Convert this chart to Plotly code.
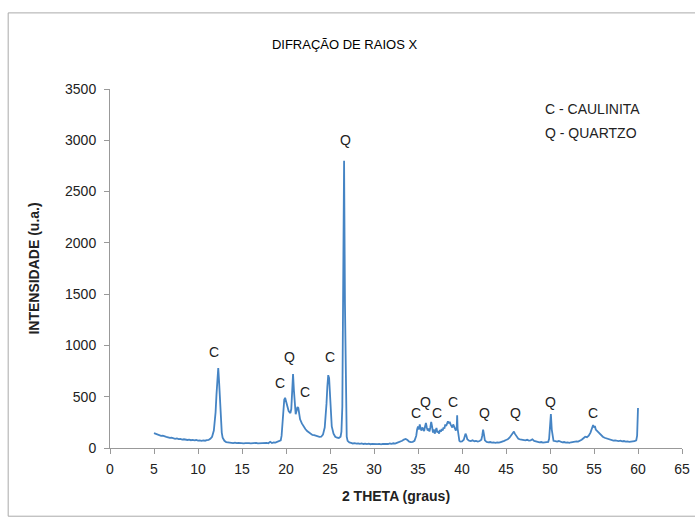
import plotly.graph_objects as go

two_theta = [
    5.0, 5.2, 5.4, 5.6, 5.8, 6.0, 6.2, 6.4, 6.6, 6.8, 7.0, 7.2, 7.4, 7.6, 7.8, 8.0, 8.2, 8.4, 8.6, 8.8,
    9.0, 9.2, 9.4, 9.6, 9.8, 10.0, 10.2, 10.4, 10.6, 10.8, 11.0, 11.2, 11.4,
    11.6, 11.8, 11.9, 12.0, 12.1, 12.2, 12.3, 12.4, 12.5, 12.6, 12.7, 12.8, 13.0, 13.2,
    13.4, 13.6, 13.8, 14.0, 14.2, 14.4, 14.6, 14.8, 15.0, 15.2, 15.4, 15.6, 15.8, 16.0, 16.2, 16.4,
    16.6, 16.8, 17.0, 17.2, 17.4, 17.6, 17.8, 18.0, 18.2, 18.4, 18.6, 18.8, 19.0, 19.2, 19.4,
    19.5, 19.6, 19.7, 19.8, 19.9, 20.0, 20.1, 20.2, 20.3, 20.4, 20.5, 20.6, 20.7, 20.8, 20.9,
    21.0, 21.1, 21.2, 21.3, 21.4, 21.5, 21.6, 21.8, 22.0, 22.2, 22.4, 22.6, 22.8, 23.0, 23.2,
    23.4, 23.6, 23.8, 24.0, 24.2, 24.4, 24.5, 24.6, 24.7, 24.8, 24.9, 25.0, 25.1, 25.2, 25.4,
    25.6, 25.8, 26.0, 26.2, 26.3, 26.4, 26.5, 26.6, 26.7, 26.8, 26.9, 27.0, 27.2,
    27.4, 27.6, 27.8, 28.0, 28.2, 28.4, 28.6, 28.8, 29.0, 29.2, 29.4, 29.6, 29.8, 30.0, 30.2,
    30.4, 30.6, 30.8, 31.0, 31.2, 31.4, 31.6, 31.8, 32.0, 32.2, 32.4, 32.6, 32.8, 33.0, 33.2,
    33.4, 33.6, 33.8, 34.0, 34.2, 34.4, 34.6, 34.8, 34.9, 35.0, 35.1, 35.2, 35.3, 35.4, 35.5,
    35.6, 35.7, 35.8, 35.9, 36.0, 36.1, 36.2, 36.3, 36.4, 36.5, 36.6, 36.7, 36.8, 36.9, 37.0,
    37.1, 37.2, 37.3, 37.4, 37.5, 37.6, 37.7, 37.8, 37.9, 38.0, 38.1, 38.2, 38.3, 38.4, 38.5,
    38.6, 38.7, 38.8, 38.9, 39.0, 39.1, 39.2, 39.3, 39.4, 39.45, 39.5, 39.6, 39.7, 39.8, 40.0,
    40.2, 40.4, 40.5, 40.6, 40.8, 41.0, 41.2, 41.4, 41.6, 41.8, 42.0, 42.2, 42.3, 42.4, 42.5,
    42.6, 42.8, 43.0, 43.2, 43.4, 43.6, 43.8, 44.0, 44.2, 44.4, 44.6, 44.8, 45.0, 45.2, 45.4,
    45.6, 45.8, 45.9, 46.0, 46.2, 46.4, 46.6, 46.8, 47.0, 47.2, 47.4, 47.6, 47.8, 48.0, 48.2,
    48.4, 48.6, 48.8, 49.0, 49.2, 49.4, 49.6, 49.8, 49.9, 50.0, 50.1, 50.2, 50.3, 50.4, 50.6,
    50.8, 51.0, 51.2, 51.4, 51.6, 51.8, 52.0, 52.2, 52.4, 52.6, 52.8, 53.0, 53.2, 53.4, 53.6,
    53.8, 54.0, 54.2, 54.4, 54.6, 54.8, 54.9, 55.0, 55.1, 55.2, 55.4, 55.6, 55.8, 56.0, 56.2,
    56.4, 56.6, 56.8, 57.0, 57.2, 57.4, 57.6, 57.8, 58.0, 58.2, 58.4, 58.6, 58.8, 59.0, 59.2,
    59.4, 59.6, 59.8, 59.9, 60.0,
]

intensity = [
    145, 138, 130, 128, 118, 120, 110, 108, 104, 98, 100, 94, 90, 93, 86, 88, 82, 85, 80, 78,
    82, 76, 79, 74, 78, 72, 75, 70, 74, 71, 76, 78, 90,
    110, 170, 240, 350, 520, 700, 780, 640, 420, 250, 150, 100, 70, 58,
    55, 50, 54, 48, 52, 47, 50, 46, 49, 45, 48, 44, 47, 45, 48, 44,
    50, 46, 48, 45, 52, 47, 50, 46, 60, 48, 55, 52, 58, 62, 75,
    120, 220, 380, 470, 490, 450, 420, 390, 360, 350, 340, 380, 520, 720, 560,
    380, 330, 360, 400, 390, 320, 280, 240, 210, 185, 165, 150, 140, 128, 125,
    118, 112, 108, 110, 130, 200, 290, 430, 600, 710, 680, 520, 330, 210, 140,
    110, 100, 98, 110, 160, 400, 1500, 2800, 1400, 300, 110, 70, 55,
    50, 44, 47, 42, 45, 40, 44, 39, 43, 38, 42, 37, 41, 38, 42,
    37, 40, 36, 41, 38, 42, 39, 44, 41, 46, 43, 50, 55, 62, 70,
    82, 88, 78, 62, 58, 60, 70, 120, 180, 210, 180, 230, 190, 170, 200,
    175, 165, 210, 245, 200, 170, 190, 160, 200, 255, 210, 150, 180, 140, 170,
    195, 150, 165, 140, 175, 160, 185, 170, 200, 190, 230, 215, 250, 260, 240,
    255, 230, 220, 200, 230, 210, 180, 170, 200, 320, 190, 100, 70, 62, 65,
    80, 140, 120, 85, 72, 68, 75, 66, 70, 63, 68, 80, 120, 180, 130,
    75, 60, 55, 58, 52, 54, 50, 55, 52, 58, 62, 70, 78, 85, 100,
    125, 150, 160, 140, 110, 90, 85, 80, 82, 75, 80, 72, 75, 85, 70,
    65, 60, 55, 58, 52, 55, 56, 60, 90, 200, 330, 180, 90, 70, 66,
    62, 68, 60, 55, 58, 52, 55, 50, 56, 60, 58, 65, 62, 70, 80,
    95, 110, 105, 120, 150, 190, 225, 200, 215, 180, 160, 140, 125, 110, 100,
    95, 88, 82, 78, 72, 75, 70, 68, 72, 65, 68, 62, 65, 60, 63,
    62, 66, 75, 120, 390,
]

peak_labels = ["C", "C", "Q", "C", "C", "Q", "C", "Q", "C", "C", "Q", "Q", "Q", "C"]
peak_label_x = [11.8, 19.3, 20.45, 22.2, 25.0, 26.8, 34.8, 35.8, 37.2, 39.0, 42.6, 46.1, 50.1, 54.9]
peak_label_y = [935, 635, 890, 545, 890, 3000, 340, 450, 340, 450, 340, 340, 450, 340]

legend_lines = ["C - CAULINITA", "Q - QUARTZO"]
legend_y = [3305, 3075]

fig = go.Figure()
fig.add_trace(go.Scatter(
    x=two_theta, y=intensity, mode="lines",
    line=dict(color="#4584c4", width=1.8),
    showlegend=False,
))

for t, xv, yv in zip(peak_labels, peak_label_x, peak_label_y):
    fig.add_annotation(x=xv, y=yv, text=t, showarrow=False,
                       font=dict(family="Liberation Sans", size=14, color="#222"))

for t, yv in zip(legend_lines, legend_y):
    fig.add_annotation(x=49.2, y=yv, text=t, showarrow=False, xanchor="left",
                       font=dict(family="Liberation Sans Narrow, Liberation Sans", size=14, color="#222"))

fig.add_shape(type="rect", xref="paper", yref="paper",
              x0=-0.178, x1=1.03, y0=-0.19, y1=1.212,
              line=dict(color="#aaaaaa", width=1), fillcolor="rgba(0,0,0,0)", layer="below")

fig.update_layout(
    width=695, height=522,
    margin=dict(l=110, r=13, t=89, b=74),
    paper_bgcolor="white", plot_bgcolor="white",
    title=dict(text="DIFRAÇÃO DE RAIOS X", x=0.41, xref="paper", xanchor="center",
               y=0.914, yanchor="middle",
               font=dict(family="Liberation Sans Narrow, Liberation Sans", size=13, color="#000")),
    font=dict(family="Liberation Sans", color="#222"),
)

fig.update_xaxes(range=[0, 65], dtick=5, tick0=0, showgrid=False, zeroline=False,
                 automargin=False,
                 showline=True, linecolor="#999", linewidth=1,
                 ticks="outside", ticklen=5, tickcolor="#999",
                 ticklabelstandoff=3,
                 tickfont=dict(size=14, color="#222"),
                 title=dict(text="<b>2 THETA (graus)</b>", standoff=15,
                            font=dict(size=14, color="#222")))
fig.update_yaxes(range=[0, 3500], dtick=500, tick0=0, showgrid=False, zeroline=False,
                 automargin=False,
                 showline=True, linecolor="#999", linewidth=1,
                 ticks="outside", ticklen=5, tickcolor="#999",
                 ticklabelstandoff=5,
                 tickfont=dict(size=14, color="#222"),
                 title=dict(text="<b>INTENSIDADE (u.a.)</b>", standoff=22,
                            font=dict(size=14, color="#222")))

fig.write_html("out.html")
